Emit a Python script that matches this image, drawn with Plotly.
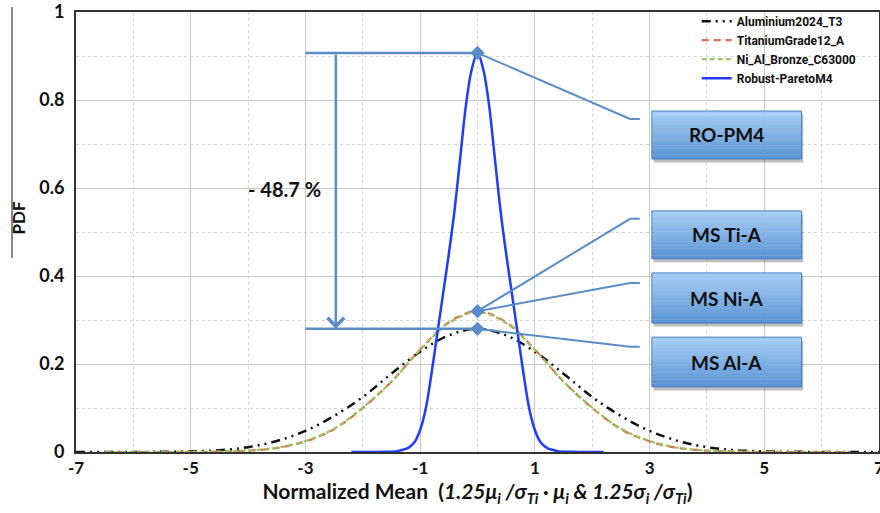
import plotly.graph_objects as go

# ---------------- data ----------------
al_x = [-7, -6.5, -6, -5.5, -5, -4.5, -4, -3.5, -3, -2.5, -2, -1.5, -1, -0.5, 0,
        0.5, 1, 1.5, 2, 2.5, 3, 3.5, 4, 4.5, 5, 5.5, 6, 6.5, 7]
al_y = [0, 0, 0.0001, 0.0005, 0.0015, 0.004, 0.011, 0.025, 0.048, 0.082, 0.125, 0.178, 0.228, 0.265, 0.280,
        0.265, 0.228, 0.178, 0.125, 0.082, 0.048, 0.025, 0.011, 0.004, 0.0015, 0.0005, 0.0001, 0, 0]

ti_x = [-6.5, -6, -5.5, -5, -4.5, -4, -3.5, -3, -2.5, -2, -1.5, -1, -0.5, 0,
        0.5, 1, 1.5, 2, 2.5, 3, 3.5, 4, 4.5, 5, 5.5, 6, 6.5]
ti_y = [0, 0, 0, 0.0002, 0.001, 0.003, 0.009, 0.024, 0.052, 0.100, 0.160, 0.233, 0.295, 0.320,
        0.295, 0.233, 0.160, 0.100, 0.052, 0.024, 0.009, 0.003, 0.001, 0.0002, 0, 0, 0]

ni_x = [-6.5, -6, -5.5, -5, -4.5, -4, -3.5, -3, -2.5, -2, -1.5, -1, -0.5, 0,
        0.5, 1, 1.5, 2, 2.5, 3, 3.5, 4, 4.5, 5, 5.5, 6, 6.5]
ni_y = [0, 0, 0, 0.0002, 0.0011, 0.0033, 0.0095, 0.025, 0.053, 0.101, 0.160, 0.232, 0.293, 0.318,
        0.293, 0.232, 0.160, 0.101, 0.053, 0.025, 0.0095, 0.0033, 0.0011, 0.0002, 0, 0, 0]

rp_x = [-2.2, -2.0, -1.8, -1.6, -1.4, -1.3, -1.2, -1.1, -1.0, -0.9, -0.8, -0.7, -0.6, -0.5, -0.4, -0.3, -0.2, -0.1, 0,
        0.1, 0.2, 0.3, 0.4, 0.5, 0.6, 0.7, 0.8, 0.9, 1.0, 1.1, 1.2, 1.3, 1.4, 1.6, 1.8, 2.0, 2.2]
rp_y = [0, 0, 0, 0.0005, 0.002, 0.005, 0.010, 0.022, 0.05, 0.10, 0.18, 0.27, 0.36, 0.45, 0.55, 0.67, 0.79, 0.87, 0.907,
        0.87, 0.79, 0.67, 0.55, 0.45, 0.36, 0.27, 0.18, 0.10, 0.05, 0.022, 0.010, 0.005, 0.002, 0.0005, 0, 0, 0]

series_names = ["Aluminium2024_T3", "TitaniumGrade12_A", "Ni_Al_Bronze_C63000", "Robust-ParetoM4"]

x_ticks = [-7, -5, -3, -1, 1, 3, 5, 7]
y_ticks = [0, 0.2, 0.4, 0.6, 0.8, 1]
y_tick_text = ["0", "0.2", "0.4", "0.6", "0.8", "1"]
x_minor = [-6, -4, -2, 0, 2, 4, 6]
y_minor = [0.1, 0.3, 0.5, 0.7, 0.9]

box_labels = ["RO-PM4", "MS Ti-A", "MS Ni-A", "MS Al-A"]
reduction_label = "- 48.7 %"

# ---------------- style ----------------
ANN = "#5b8cc8"
FONT = "Lato"

fig = go.Figure()
fig.add_trace(go.Scatter(x=al_x, y=al_y, name=series_names[0], mode="lines", line_shape="spline",
                         line=dict(color="#111111", width=2.5, dash="9px,5px,2px,5px,2px,5px")))
fig.add_trace(go.Scatter(x=ti_x, y=ti_y, name=series_names[1], mode="lines", line_shape="spline",
                         line=dict(color="#e06a5c", width=2.2, dash="7px,5px")))
fig.add_trace(go.Scatter(x=ni_x, y=ni_y, name=series_names[2], mode="lines", line_shape="spline",
                         line=dict(color="#9bc25b", width=2.2, dash="5px,3px")))
fig.add_trace(go.Scatter(x=rp_x, y=rp_y, name=series_names[3], mode="lines", line_shape="spline",
                         line=dict(color="#1f3cff", width=2.5)))

peak_rp = max(rp_y)
peak_ti = max(ti_y)
peak_al = max(al_y)

# markers at peaks
fig.add_trace(go.Scatter(x=[0, 0, 0], y=[peak_rp, peak_ti, peak_al], mode="markers", showlegend=False,
                         marker=dict(symbol="diamond", size=11, color=ANN), hoverinfo="skip"))

# horizontal reference lines and vertical arrow
for yy in (peak_rp, peak_al):
    fig.add_shape(type="line", xref="x", yref="y", x0=-3.0, x1=0, y0=yy, y1=yy,
                  line=dict(color=ANN, width=2.5), layer="above")
fig.add_annotation(x=-2.47, y=peak_al, ax=-2.47, ay=peak_rp, xref="x", yref="y", axref="x", ayref="y",
                   text="", showarrow=True, arrowhead=4, arrowsize=1.3, arrowwidth=2.5, arrowcolor=ANN)
fig.add_annotation(x=-3.36, y=0.597, xref="x", yref="y", text="<b>" + reduction_label + "</b>",
                   showarrow=False, font=dict(family=FONT, size=20, color="#111111"))

# callout boxes
box_y = [(0.775, 0.666), (0.548, 0.439), (0.407, 0.293), (0.261, 0.148)]
elbow_y = [0.757, 0.53, 0.384, 0.239]
src_y = [peak_rp, peak_ti, peak_ti, peak_al]
bx0, bx1 = 3.04, 5.65


def mix(c1, c2, t):
    a = [int(c1[i:i + 2], 16) for i in (1, 3, 5)]
    b = [int(c2[i:i + 2], 16) for i in (1, 3, 5)]
    return "rgb(%d,%d,%d)" % tuple(round(a[k] + (b[k] - a[k]) * t) for k in range(3))


for lab, (ytop, ybot), ey, sy in zip(box_labels, box_y, elbow_y, src_y):
    fig.add_shape(type="path", xref="x", yref="y",
                  path="M 0 %f L 2.66 %f L 2.83 %f" % (sy, ey, ey),
                  line=dict(color=ANN, width=2), layer="above")
    fig.add_shape(type="rect", xref="x", yref="y", x0=bx0 + 0.03, x1=bx1 + 0.03, y0=ybot - 0.008, y1=ytop - 0.008,
                  fillcolor="rgba(0,0,0,0.25)", line=dict(width=0), layer="above")
    n = 14
    for i in range(n):
        t0 = ytop - (ytop - ybot) * i / n
        t1 = ytop - (ytop - ybot) * (i + 1) / n
        fig.add_shape(type="rect", xref="x", yref="y", x0=bx0, x1=bx1, y0=t1, y1=t0,
                      fillcolor=mix("#a6cdf5", "#5a95d6", i / (n - 1)), line=dict(width=0), layer="above")
    fig.add_shape(type="rect", xref="x", yref="y", x0=bx0, x1=bx1, y0=ybot, y1=ytop,
                  line=dict(color="#4a7ebb", width=1), fillcolor="rgba(0,0,0,0)", layer="above")
    fig.add_annotation(x=(bx0 + bx1) / 2, y=(ytop + ybot) / 2, xref="x", yref="y", text="<b>" + lab + "</b>",
                       showarrow=False, font=dict(family=FONT, size=19, color="#111111"))

# y-axis title (rotated) and its rule
fig.add_annotation(x=-0.0715, y=0.532, xref="paper", yref="paper", text="<b>PDF</b>", textangle=-90,
                   xanchor="center", yanchor="middle",
                   showarrow=False, font=dict(family=FONT, size=17, color="#111111"))
fig.add_shape(type="line", xref="paper", yref="paper", x0=-0.0797, x1=-0.0797, y0=1.011, y1=0.441,
              line=dict(color="#111111", width=1))

fig.update_layout(
    width=880, height=513,
    margin=dict(l=76, r=1, t=12, b=61, autoexpand=False),
    paper_bgcolor="white", plot_bgcolor="white",
    font=dict(family=FONT, color="#111111"),
    showlegend=True,
    legend=dict(x=0.773, y=1.012, xanchor="left", yanchor="top", bgcolor="rgba(0,0,0,0)",
                font=dict(family="Roboto", size=12, color="#111111", weight="bold"),
                tracegroupgap=0, itemwidth=30),
    xaxis=dict(range=[-7, 7], tickvals=x_ticks, ticktext=[str(v) for v in x_ticks], automargin=False,
               tickfont=dict(family=FONT, size=17, weight="bold"), ticklabeloverflow="allow",
               showgrid=True, gridcolor="#c8c8c8", gridwidth=1, zeroline=False,
               showline=True, linecolor="#333333", linewidth=2, mirror=True, ticks="",
               minor=dict(tickvals=x_minor, showgrid=True, gridcolor="#d6d6d6", griddash="dot", gridwidth=1),
               title=dict(text="<b>Normalized Mean&nbsp;&nbsp;(<i>1.25μ<sub>i</sub> /σ<sub>Ti</sub> · μ<sub>i</sub> &amp; "
                               "1.25σ<sub>i</sub> /σ<sub>Ti</sub></i>)</b>",
                          font=dict(family=FONT, size=21), standoff=7)),
    yaxis=dict(range=[0, 1], tickvals=y_ticks, ticktext=y_tick_text, automargin=False,
               tickfont=dict(family=FONT, size=18, weight="bold"), ticklabeloverflow="allow",
               showgrid=True, gridcolor="#c8c8c8", gridwidth=1, zeroline=False,
               showline=True, linecolor="#333333", linewidth=2, mirror=True, ticks="outside",
               ticklen=6, tickcolor="white",
               minor=dict(tickvals=y_minor, showgrid=True, gridcolor="#d6d6d6", griddash="dot", gridwidth=1)),
)

# remove the default page margin so the 880x513 figure fills the window exactly
fig.write_html("out.html", config={"displayModeBar": False},
               post_script="document.body.style.margin='0';")
